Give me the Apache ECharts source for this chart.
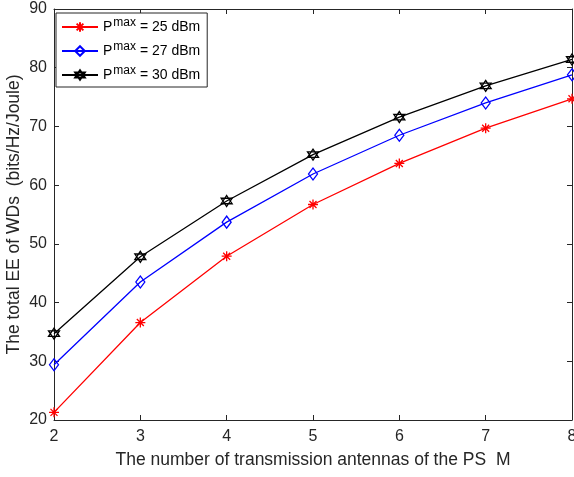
<!DOCTYPE html>
<html>
<head>
<meta charset="utf-8">
<script src="https://cdn.jsdelivr.net/npm/echarts@6/dist/echarts.min.js"></script>
<style>
  html, body { margin: 0; padding: 0; background: #fff; }
  #chart { width: 574px; height: 477px; }
</style>
</head>
<body>
<div id="chart"></div>
<script>
// antennas M
const antennas = [2, 3, 4, 5, 6, 7, 8]
// total EE for each Pmax
const ee25 = [21.3, 36.6, 47.9, 56.7, 63.7, 69.7, 74.7]
const ee27 = [29.4, 43.5, 53.7, 61.9, 68.5, 74.0, 78.8]
const ee30 = [34.7, 47.8, 57.3, 65.2, 71.6, 76.9, 81.4]
const seriesNames = ['25', '27', '30']

const axisColor = '#262626'
const font = 'Arial, "Liberation Sans", sans-serif'

const asterisk = 'path://M0,-10 L0,10 M-10,0 L10,0 M-7,-7 L7,7 M-7,7 L7,-7'
const hexagram = 'path://M0,-10 L8.66,5 L-8.66,5 Z M0,10 L8.66,-5 L-8.66,-5 Z'
const diamond = 'path://M0,-10 L7,0 L0,10 L-7,0 Z'

function pairs (vals) {
  return antennas.map((m, i) => [m, vals[i]])
}

function mkSeries (name, vals, color, symbol, size) {
  return {
    name: name,
    type: 'line',
    data: pairs(vals),
    symbol: symbol,
    symbolSize: size,
    lineStyle: { color: color, width: 1.3 },
    itemStyle: { color: 'rgba(0,0,0,0)', borderColor: color, borderWidth: 1.3 },
    emphasis: { disabled: true },
    animation: false
  }
}

const chart = echarts.init(document.getElementById('chart'))

const baseAxis = {
  axisLine: { show: true, lineStyle: { color: axisColor, width: 1 } },
  axisTick: { show: true, inside: true, length: 5, lineStyle: { color: axisColor } },
  splitLine: { show: false }
}

chart.setOption({
  backgroundColor: '#fff',
  textStyle: { fontFamily: font },
  grid: { left: 54, right: 2, top: 9, bottom: 57, containLabel: false, outerBoundsMode: 'none' },
  legend: {
    orient: 'vertical',
    left: 56,
    top: 13,
    itemWidth: 36,
    itemHeight: 12,
    itemGap: 4,
    padding: [4, 7, 2, 5],
    backgroundColor: '#fff',
    borderColor: axisColor,
    borderWidth: 1,
    borderRadius: 0,
    data: seriesNames,
    formatter: function (n) {
      return '{p|P}{sup|max}{p| = ' + n + ' dBm}'
    },
    textStyle: {
      color: '#000',
      rich: {
        p: { fontSize: 14, fontFamily: font, color: '#000', lineHeight: 18 },
        sup: { fontSize: 12, fontFamily: font, color: '#000', lineHeight: 18, padding: [0, 0, 8, 1] }
      }
    }
  },
  xAxis: [
    Object.assign({}, baseAxis, {
      type: 'value',
      min: 2,
      max: 8,
      interval: 1,
      name: 'The number of transmission antennas of the PS  M',
      nameLocation: 'middle',
      nameGap: 31,
      nameMoveOverlap: false,
      nameTextStyle: { color: axisColor, fontSize: 17.5, fontFamily: font },
      axisLabel: { color: axisColor, fontSize: 16, margin: 9, fontFamily: font }
    }),
    Object.assign({}, baseAxis, {
      type: 'value', position: 'top', min: 2, max: 8, interval: 1,
      axisLabel: { show: false }
    })
  ],
  yAxis: [
    Object.assign({}, baseAxis, {
      type: 'value',
      min: 20,
      max: 90,
      interval: 10,
      name: 'The total EE of WDs  (bits/Hz/Joule)',
      nameLocation: 'middle',
      nameGap: 31,
      nameMoveOverlap: false,
      nameTextStyle: { color: axisColor, fontSize: 17.5, fontFamily: font },
      axisLabel: { color: axisColor, fontSize: 16, margin: 7, fontFamily: font }
    }),
    Object.assign({}, baseAxis, {
      type: 'value', position: 'right', min: 20, max: 90, interval: 10,
      axisLabel: { show: false }
    })
  ],
  series: [
    mkSeries(seriesNames[0], ee25, '#ff0000', asterisk, 10),
    mkSeries(seriesNames[1], ee27, '#0000ff', diamond, [9, 12]),
    mkSeries(seriesNames[2], ee30, '#000000', hexagram, 11)
  ]
})
</script>
</body>
</html>
